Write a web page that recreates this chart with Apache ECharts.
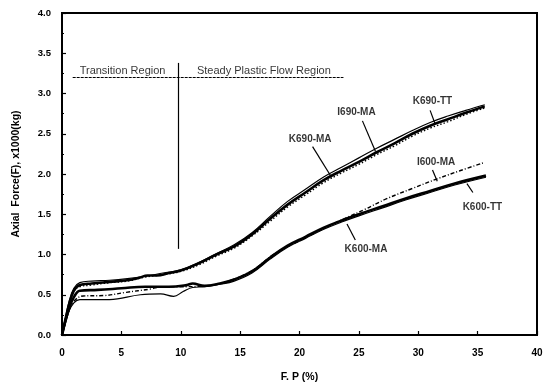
<!DOCTYPE html>
<html>
<head>
<meta charset="utf-8">
<script src="https://cdn.jsdelivr.net/npm/echarts@6/dist/echarts.min.js"></script>
<style>html,body{margin:0;padding:0;background:#fff}#c{width:550px;height:388px}</style>
</head>
<body>
<div id="c"></div>
<script>
// ---- data ----
const xTicks = [0, 5, 10, 15, 20, 25, 30, 35, 40];
const yTicks = [0, 0.5, 1.0, 1.5, 2.0, 2.5, 3.0, 3.5, 4.0];

const k690maX = [0, 0.3, 0.6, 1.0, 1.5, 2.5, 4, 5.5, 6.5, 7.2, 8, 9, 10, 11.5, 13, 14.5, 16, 17.5, 19, 20.5, 22, 23.5, 25, 26.5, 28, 29.5, 31, 32.5, 34, 35.6];
const k690maY = [0, 0.2, 0.38, 0.55, 0.62, 0.64, 0.66, 0.68, 0.71, 0.74, 0.74, 0.77, 0.8, 0.89, 1.0, 1.1, 1.25, 1.44, 1.62, 1.77, 1.92, 2.04, 2.15, 2.27, 2.38, 2.5, 2.6, 2.68, 2.76, 2.84];

const k690ttX = [0, 0.3, 0.6, 1.0, 1.5, 2.5, 4, 5.5, 7, 8.5, 10, 11.5, 13, 14.5, 16, 17.5, 19, 20.5, 22, 23.5, 25, 26.5, 28, 29.5, 31, 32.5, 34, 35.6];
const k690ttY = [0, 0.22, 0.42, 0.58, 0.65, 0.67, 0.68, 0.7, 0.73, 0.77, 0.81, 0.9, 1.01, 1.12, 1.27, 1.47, 1.66, 1.81, 1.96, 2.08, 2.2, 2.32, 2.43, 2.54, 2.64, 2.72, 2.79, 2.86];

const i690maX = [0, 0.3, 0.6, 1.0, 1.5, 2.5, 4, 5.5, 7, 8.5, 10, 11.5, 13, 14.5, 16, 17.5, 19, 20.5, 22, 23.5, 25, 26.5, 28, 29.5, 31, 32.5, 34, 35.6];
const i690maY = [0, 0.2, 0.37, 0.54, 0.6, 0.62, 0.65, 0.67, 0.72, 0.75, 0.79, 0.87, 0.98, 1.08, 1.23, 1.41, 1.59, 1.74, 1.89, 2.01, 2.12, 2.24, 2.35, 2.47, 2.57, 2.65, 2.74, 2.82];

const k600ttX = [0, 0.3, 0.6, 1.0, 1.5, 3, 5, 7, 9, 10.5, 11, 12, 13.3, 14.5, 16, 17.5, 19, 20.5, 22, 23.5, 25, 27, 29, 31, 33, 35.7];
const k600ttY = [0, 0.18, 0.33, 0.47, 0.55, 0.56, 0.58, 0.6, 0.6, 0.62, 0.64, 0.61, 0.64, 0.69, 0.79, 0.96, 1.11, 1.22, 1.33, 1.42, 1.5, 1.6, 1.7, 1.79, 1.88, 1.98];

const i600maX = [0, 0.3, 0.6, 1.0, 1.8, 3.5, 5.4, 7.4, 8.5, 10, 12, 14, 16, 18, 20, 22, 23.7, 25.5, 27.3, 29.5, 31.6, 33.5, 35.5];
const i600maY = [0, 0.16, 0.3, 0.42, 0.485, 0.49, 0.53, 0.57, 0.6, 0.6, 0.61, 0.67, 0.8, 1.02, 1.17, 1.32, 1.44, 1.56, 1.69, 1.82, 1.94, 2.04, 2.14];

const k600maX = [0, 0.3, 0.6, 1.0, 1.5, 4, 6.6, 8.3, 9.4, 10.2, 11, 12, 13.3, 14.5, 16, 17.5, 19, 20.5, 22, 23.5, 25, 27, 29, 31, 33, 35.7];
const k600maY = [0, 0.15, 0.3, 0.4, 0.44, 0.44, 0.5, 0.51, 0.48, 0.54, 0.59, 0.6, 0.63, 0.67, 0.77, 0.94, 1.09, 1.2, 1.31, 1.4, 1.48, 1.58, 1.68, 1.77, 1.86, 1.96];

// curve name labels: [x, y, text] and leader lines [x1, y1, x2, y2]
const curveLabels = [
  [31.2, 2.90, 'K690-TT'],
  [24.8, 2.77, 'I690-MA'],
  [20.9, 2.43, 'K690-MA'],
  [31.5, 2.15, 'I600-MA'],
  [35.4, 1.59, 'K600-TT'],
  [25.6, 1.07, 'K600-MA']
];
const leaders = [
  [31.0, 2.79, 31.4, 2.63],
  [25.3, 2.66, 26.4, 2.28],
  [21.1, 2.34, 22.7, 1.96],
  [31.2, 2.05, 31.6, 1.91],
  [34.1, 1.88, 34.6, 1.77],
  [24.0, 1.38, 24.7, 1.18]
];
const regionTexts = [
  [5.1, 3.28, 'Transition Region'],
  [17.0, 3.28, 'Steady Plastic Flow Region']
];
const regionDivider = [9.8, 1.07, 9.8, 3.38];
const regionUnderline = [0.9, 3.2, 23.7, 3.2];

// ---- build ----
function pairs(xs, ys) { return xs.map((x, i) => [x, ys[i]]); }
const FONT = 'Liberation Sans';

function curve(name, xs, ys, width, type) {
  return {
    name: name, type: 'line', data: pairs(xs, ys), smooth: 0.4, symbol: 'none',
    lineStyle: { color: '#000', width: width, type: type }, silent: true, z: 3
  };
}

const option = {
  animation: false,
  backgroundColor: '#fff',
  grid: { left: 62, top: 13, right: 13, bottom: 51, show: true, borderColor: '#000', borderWidth: 2, backgroundColor: 'transparent' },
  xAxis: {
    type: 'value', min: 0, max: 40, interval: 5,
    name: 'F. P (%)', nameLocation: 'middle', nameGap: 37,
    nameTextStyle: { fontFamily: FONT, fontWeight: 'bold', fontSize: 10.5, color: '#000' },
    axisLine: { show: true, lineStyle: { color: '#000', width: 2 } },
    axisTick: { show: true, inside: true, length: 4, lineStyle: { color: '#000', width: 1.2 } },
    axisLabel: { fontFamily: FONT, fontWeight: 'bold', fontSize: 10, color: '#000', margin: 13,
      formatter: v => xTicks.includes(v) ? String(v) : '' },
    splitLine: { show: false }
  },
  yAxis: {
    type: 'value', min: 0, max: 4, interval: 0.5,
    name: 'Axial  Force(F), x1000(kg)', nameLocation: 'middle', nameGap: 40, nameRotate: 90,
    nameTextStyle: { fontFamily: FONT, fontWeight: 'bold', fontSize: 10.5, color: '#000' },
    axisLine: { show: true, lineStyle: { color: '#000', width: 2 } },
    axisTick: { show: true, inside: true, length: 4, lineStyle: { color: '#000', width: 1.2 } },
    minorTick: { show: true, splitNumber: 2, length: 2, lineStyle: { color: '#000', width: 1 } },
    axisLabel: { fontFamily: FONT, fontWeight: 'bold', fontSize: 9.5, color: '#000', margin: 11,
      formatter: v => yTicks.includes(v) ? v.toFixed(1) : '' },
    splitLine: { show: false }
  },
  series: [
    curve('K690-MA', k690maX, k690maY, 2.6, 'solid'),
    curve('K690-TT', k690ttX, k690ttY, 1.2, 'solid'),
    curve('I690-MA', i690maX, i690maY, 1.4, [1.5, 2]),
    curve('K600-TT', k600ttX, k600ttY, 2.6, 'solid'),
    curve('I600-MA', i600maX, i600maY, 1.4, [4, 2, 1, 2]),
    curve('K600-MA', k600maX, k600maY, 1.2, 'solid'),
    {
      type: 'scatter', symbolSize: 0, silent: true, z: 5,
      data: curveLabels.map(d => ({ value: [d[0], d[1]], name: d[2] })).concat(
        regionTexts.map(d => ({ value: [d[0], d[1]], name: d[2],
          label: { fontWeight: 'normal', fontSize: 11 } }))),
      label: { show: true, position: 'inside', formatter: p => p.name,
        fontFamily: FONT, fontWeight: 'bold', fontSize: 10, color: '#000' },
      markLine: {
        silent: true, symbol: ['none', 'none'], animation: false,
        label: { show: false },
        lineStyle: { color: '#000', width: 1.2, type: 'solid' },
        data: leaders.map(l => [{ coord: [l[0], l[1]] }, { coord: [l[2], l[3]] }]).concat([
          [{ coord: [regionDivider[0], regionDivider[1]] }, { coord: [regionDivider[2], regionDivider[3]] }],
          [{ coord: [regionUnderline[0], regionUnderline[1]], lineStyle: { type: [3, 1] } },
           { coord: [regionUnderline[2], regionUnderline[3]] }]
        ])
      }
    }
  ]
};

const chart = echarts.init(document.getElementById('c'), null, { renderer: 'canvas' });
chart.setOption(option);
</script>
</body>
</html>
